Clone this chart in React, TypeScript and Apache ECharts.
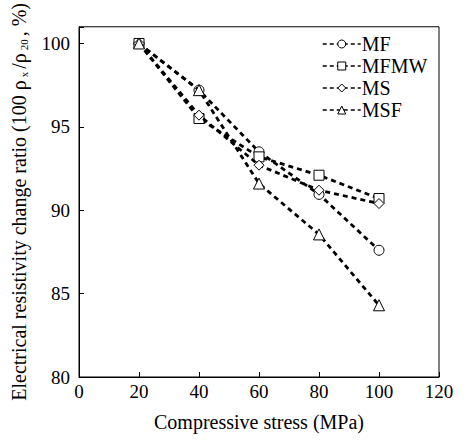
import React, { useEffect, useRef } from "react";
import * as echarts from "echarts";

const stress = [20, 40, 60, 80, 100];
const seriesNames = ["MF", "MFMW", "MS", "MSF"];
const mf = [100, 97.2, 93.5, 90.95, 87.6];
const mfmw = [100, 95.5, 93.2, 92.1, 90.7];
const ms = [100, 95.7, 92.7, 91.2, 90.4];
const msf = [100, 97.2, 91.6, 88.55, 84.3];
const symbols = ["circle", "rect", "diamond", "triangle"];
const yTicks = [80, 85, 90, 95, 100];

const FONT = "'Liberation Serif', 'Times New Roman', serif";

export default function App() {
  const ref = useRef<HTMLDivElement>(null);
  useEffect(() => {
    if (!ref.current) return;
    document.body.style.margin = "0";
    const chart = echarts.init(ref.current, undefined, { renderer: "svg" });
    const all = [mf, mfmw, ms, msf];
    chart.setOption({
      animation: false,
      backgroundColor: "#fff",
      textStyle: { fontFamily: FONT, color: "#000" },
      grid: {
        left: 79,
        right: 26,
        top: 19,
        bottom: 67,
        show: true,
        borderColor: "#000",
        borderWidth: 1,
      },
      legend: {
        orient: "vertical",
        left: 317,
        top: 29,
        itemWidth: 38,
        itemHeight: 10,
        itemGap: 2,
        data: seriesNames,
        textStyle: { fontFamily: FONT, fontSize: 20, color: "#000", padding: [0, 0, 0, -4] },
        lineStyle: { width: 1.5, type: [4, 3] },
        itemStyle: { borderWidth: 1, color: "#fff", borderColor: "#000" },
      },
      xAxis: {
        type: "value",
        min: 0,
        max: 120,
        interval: 20,
        name: "Compressive stress (MPa)",
        nameLocation: "middle",
        nameGap: 35,
        nameTextStyle: { fontFamily: FONT, fontSize: 20, color: "#000" },
        axisLine: { lineStyle: { color: "#000", width: 1 } },
        axisTick: { inside: true, length: 5, lineStyle: { color: "#000" } },
        axisLabel: { fontFamily: FONT, fontSize: 19, color: "#000", margin: 5 },
        splitLine: { show: false },
      },
      yAxis: {
        type: "value",
        min: 80,
        max: 101,
        interval: 5,
        name: "{a|Electrical resistivity change ratio (100 ρ}{s|x}{a|/ρ}{s|20}{a|, %)}",
        nameLocation: "middle",
        nameGap: 50,
        nameTextStyle: {
          fontFamily: FONT,
          fontSize: 20,
          color: "#000",
          rich: {
            a: { fontFamily: FONT, fontSize: 20, color: "#000" },
            s: { fontFamily: FONT, fontSize: 11, color: "#000", verticalAlign: "bottom", padding: [9, 3, 0, 3] },
          },
        },
        axisLine: { lineStyle: { color: "#000", width: 1 } },
        axisTick: { inside: true, length: 5, lineStyle: { color: "#000" } },
        axisLabel: {
          fontFamily: FONT,
          fontSize: 19,
          color: "#000",
          margin: 9,
          formatter: (v: number) => (yTicks.includes(v) ? String(v) : ""),
        },
        splitLine: { show: false },
      },
      series: seriesNames.map((name, i) => ({
        name,
        type: "line",
        data: stress.map((x, j) => [x, all[i][j]]),
        symbol: symbols[i],
        symbolSize: i === 3 ? 11 : 10,
        showAllSymbol: true,
        lineStyle: { color: "#000", width: 2.8, type: [5, 4] },
        itemStyle: { color: "#fff", borderColor: "#000", borderWidth: 1 },
        z: 2 + i,
      })),
    });
    return () => chart.dispose();
  }, []);
  return <div ref={ref} style={{ width: 465, height: 444 }} />;
}
